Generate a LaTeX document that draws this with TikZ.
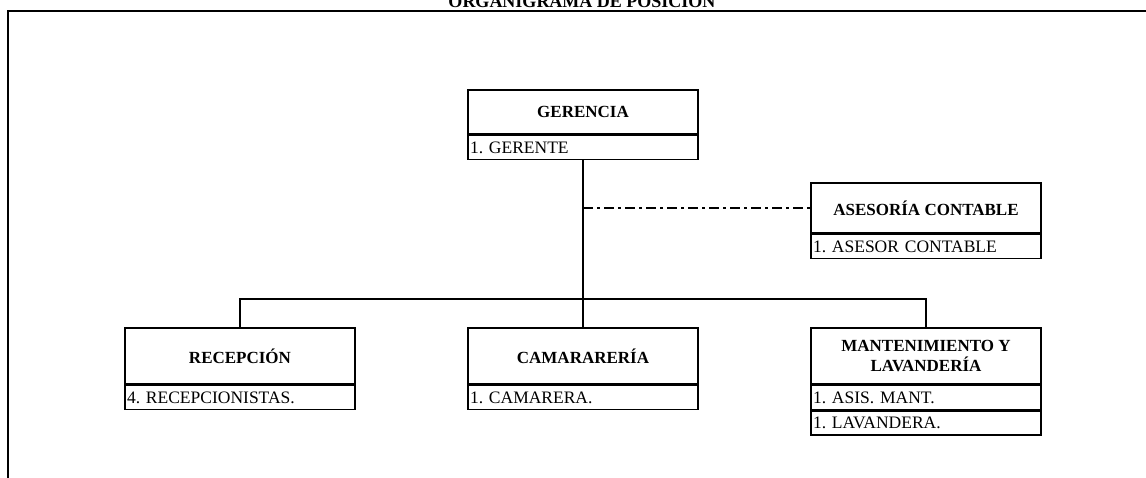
\documentclass[tikz,border=0pt]{standalone}
\usepackage{fontspec}
\setmainfont{Liberation Serif}
\usetikzlibrary{positioning}
\frenchspacing

\begin{document}
\begin{tikzpicture}[x=1pt, y=-1pt,
        head/.style={draw, line width=1.6pt, minimum width=230pt, minimum height=#1,
            align=center, inner sep=2pt, font=\bfseries\fontsize{17}{20}\selectfont},
        head/.default=56pt,
        row/.style={draw, line width=1.6pt, anchor=north, minimum height=24pt,
            text width=226pt, inner xsep=2pt, inner ysep=0pt, align=left,
            font=\fontsize{17.5}{19}\selectfont},
        link/.style={line width=1.6pt}]
    \useasboundingbox (0, 0) rectangle (1146, 477);
    % title and frame
    \node[anchor=base, inner sep=0pt, font=\bfseries\fontsize{18}{21}\selectfont] (title) at (582, 7) {ORGANIGRAMA DE POSICIÓN};
    \draw[line width=2.6pt] (8, 490) -- (8, 11) -- (1160, 11);

    % top
    \node[head=44pt] (ger) at (583, 112) {GERENCIA};
    \node[row] (gerSub) at (ger.south) {1. GERENTE};
    \node[head=50pt] (ase) at (926, 208) {ASESORÍA CONTABLE};
    \node[row] (aseSub) at (ase.south) {1. ASESOR CONTABLE};

    % bottom
    \node[head] (rec) at (240, 356) {RECEPCIÓN};
    \node[row] (recSub) at (rec.south) {4. RECEPCIONISTAS.};
    \node[head] (cam) at (583, 356) {CAMARARERÍA};
    \node[row] (camSub) at (cam.south) {1. CAMARERA.};
    \node[head] (man) at (926, 356) {MANTENIMIENTO Y\\LAVANDERÍA};
    \node[row] (manSub1) at (man.south) {1. ASIS. MANT.};
    \node[row] (manSub2) at (manSub1.south) {1. LAVANDERA.};

    % lines
    \draw[link] (gerSub.south) -- (cam.north);
    \draw[link] (rec.north) -- ++(0, -28) -| (man.north);
    \draw[link, dash pattern=on 10pt off 4pt on 3pt off 4pt] (gerSub.south |- ase.west) -- (ase.west);
\end{tikzpicture}
\end{document}
